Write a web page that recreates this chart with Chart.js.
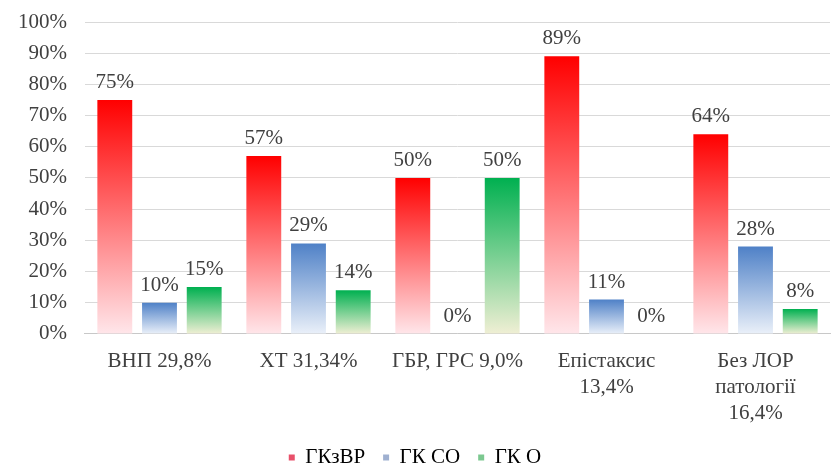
<!DOCTYPE html>
<html>
<head>
<meta charset="utf-8">
<script src="https://cdn.jsdelivr.net/npm/chart.js@4"></script>
<style>
    html, body { margin: 0; padding: 0; background: #fff; }
    #wrap { width: 835px; height: 464px; }
</style>
</head>
<body>
<div id="wrap"><canvas id="chart"></canvas></div>
<script>
// дані з діаграми
const categories = [
    'ВНП 29,8%',
    'ХТ 31,34%',
    'ГБР, ГРС 9,0%',
    ['Епістаксис', '13,4%'],
    ['Без ЛОР', 'патології', '16,4%']
];
const seriesNames = ['ГКзВР', 'ГК СО', 'ГК О'];
const gkzvr = [75, 57, 50, 89, 64];
const gkso = [10, 29, 0, 11, 28];
const gko = [15, 14, 50, 0, 8];
const yTicks = [0, 10, 20, 30, 40, 50, 60, 70, 80, 90, 100];

// кольори: верх стовпчика -> низ
const palette = [
    ['#ff0000', '#ffe6ea'],
    ['#4f81c7', '#eaf0f9'],
    ['#00b050', '#f0efd4']
];
const legendColors = ['#e8506a', '#9fb0d0', '#7cc890'];

const FONT = '"Liberation Serif", "DejaVu Serif", serif';
const FSIZE = 21;

// градієнт для кожного стовпчика окремо
function barGradient(ctx, idx) {
    const chart = ctx.chart;
    if (!chart.chartArea || ctx.type !== 'data') return palette[idx][0];
    const y = chart.scales.y;
    const top = y.getPixelForValue(ctx.raw);
    const base = y.getPixelForValue(0);
    if (base - top < 1) return palette[idx][0];
    const g = chart.ctx.createLinearGradient(0, top, 0, base);
    g.addColorStop(0, palette[idx][0]);
    g.addColorStop(1, palette[idx][1]);
    return g;
}

// підписи значень над стовпчиками
const valueLabels = {
    id: 'valueLabels',
    afterDatasetsDraw(chart) {
        const c = chart.ctx;
        c.save();
        c.font = FSIZE + 'px ' + FONT;
        c.fillStyle = '#404040';
        c.textAlign = 'center';
        c.textBaseline = 'alphabetic';
        chart.data.datasets.forEach((ds, i) => {
            chart.getDatasetMeta(i).data.forEach((bar, j) => {
                c.fillText(ds.data[j] + '%', bar.x, bar.y - 12);
            });
        });
        c.restore();
    }
};

// легенду трохи нижче; підписи осі x не обрізати
const layoutNudge = {
    id: 'layoutNudge',
    afterLayout(chart) {
        chart.legend.top += 14;
        chart.legend.bottom += 14;
        chart.scales.x.bottom += 19;
    }
};

const datasets = [gkzvr, gkso, gko].map((vals, i) => ({
    label: seriesNames[i],
    data: vals,
    backgroundColor: ctx => barGradient(ctx, i),
    borderWidth: 0,
    categoryPercentage: 0.9,
    barPercentage: 0.78
}));

new Chart(document.getElementById('chart'), {
    type: 'bar',
    data: { labels: categories, datasets: datasets },
    options: {
        responsive: true,
        maintainAspectRatio: false,
        animation: false,
        devicePixelRatio: 1,
        layout: { padding: { left: 0, right: 5, top: 0, bottom: 0 } },
        plugins: {
            legend: {
                position: 'bottom',
                labels: {
                    color: '#404040',
                    font: { family: FONT, size: FSIZE },
                    boxWidth: 6,
                    boxHeight: 6,
                    padding: 18,
                    generateLabels: chart => seriesNames.map((n, i) => ({
                        text: n,
                        fillStyle: legendColors[i],
                        strokeStyle: legendColors[i],
                        lineWidth: 0,
                        datasetIndex: i
                    }))
                }
            },
            tooltip: { enabled: false }
        },
        scales: {
            x: {
                grid: { display: false },
                border: { color: '#c8c8c8' },
                afterFit: axis => { axis.height -= 19; },
                ticks: {
                    color: '#404040',
                    font: { family: FONT, size: FSIZE, lineHeight: 1.24 },
                    maxRotation: 0,
                    padding: 7
                }
            },
            y: {
                min: 0,
                max: 100,
                afterBuildTicks: axis => { axis.ticks = yTicks.map(v => ({ value: v })); },
                afterFit: axis => { axis.paddingTop = 22; },
                grid: { color: '#d9d9d9', drawTicks: false },
                border: { display: false },
                ticks: {
                    color: '#404040',
                    font: { family: FONT, size: FSIZE },
                    padding: 18,
                    autoSkip: false,
                    callback: v => v + '%'
                }
            }
        }
    },
    plugins: [valueLabels, layoutNudge]
});
</script>
</body>
</html>
